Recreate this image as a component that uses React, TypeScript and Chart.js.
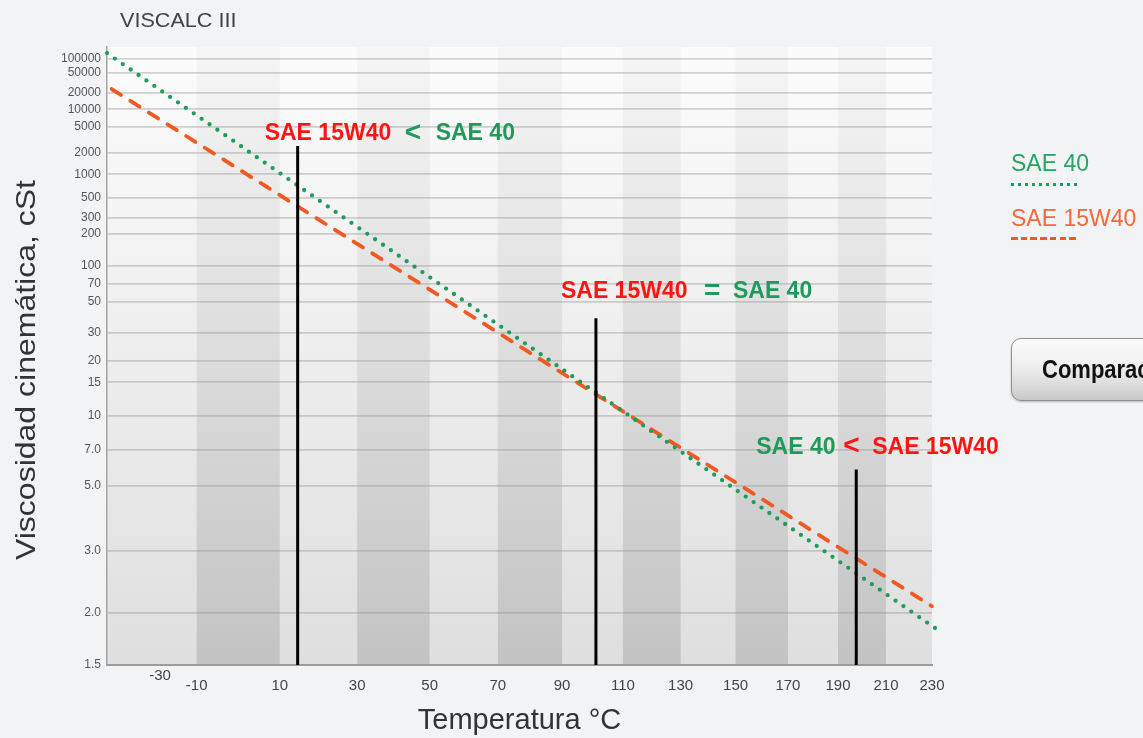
import React, { useEffect, useRef } from "react";
import { Chart, registerables } from "chart.js";

Chart.register(...registerables);

const FONT = '"Liberation Sans", Arial, Helvetica, sans-serif';

// ---- data ----
const xTickLabels = [-30, -10, 10, 30, 50, 70, 90, 110, 130, 150, 170, 190, 210, 230];
const yTickValues = [1.5, 2, 3, 5, 7, 10, 15, 20, 30, 50, 70, 100, 200, 300, 500, 1000, 2000, 5000, 10000, 20000, 50000, 100000];
const yTickLabels = ["1.5", "2.0", "3.0", "5.0", "7.0", "10", "15", "20", "30", "50", "70", "100", "200", "300", "500", "1000", "2000", "5000", "10000", "20000", "50000", "100000"];
const tempRange = [-30, 230];
const viscRange = [1.5, 185000];
const bandStarts = [-10, 30, 70, 110, 150, 190];
const bandWidth = 20;

const sae40Temps = [-30, 232];
const sae40Visc = [134000, 1.82];
const sae15w40Temps = [-29, 230];
const sae15w40Visc = [23600, 2.08];

const markerTemps = [14.5, 101, 197.5];
const markerTops = [2500, 38, 5.8];

const seriesNames = ["SAE 40", "SAE 15W40"];

const RED = "#ff1414";
const GREEN_TXT = "#1f9a5a";
const GREEN = "#1e9c5c";
const ORANGE = "#f05a22";

const annotationTexts = [
  ["SAE 15W40", "<", "SAE 40"],
  ["SAE 15W40", "=", "SAE 40"],
  ["SAE 40", "<", "SAE 15W40"],
];
const annotationColors = [
  [RED, GREEN_TXT, GREEN_TXT],
  [RED, GREEN_TXT, GREEN_TXT],
  [GREEN_TXT, RED, RED],
];
// style: placement relative to the top of each marker line
const annotationAnchor = [
  [-33, -12],
  [-35, -26],
  [-100, -22],
];
const annotationSegX = [
  [0, 140, 171],
  [0, 143, 172],
  [0, 87, 116],
];

const tx = (t: number) => Math.log10(t + 273.15);
const W = (v: number) => Math.log10(Math.log10(v + 0.7));

export default function App() {
  const ref = useRef<HTMLCanvasElement>(null);

  useEffect(() => {
    document.body.style.margin = "0";
    const canvas = ref.current!;
    const ctx = canvas.getContext("2d")!;

    const bgPlugin = {
      id: "bands",
      beforeDraw(chart: any) {
        const { ctx, chartArea: a, scales } = chart;
        const x = scales.x;
        ctx.save();
        const g = ctx.createLinearGradient(0, a.top, 0, a.bottom);
        g.addColorStop(0, "#fcfcfc");
        g.addColorStop(1, "#dfdfdf");
        ctx.fillStyle = g;
        ctx.fillRect(a.left, a.top, a.right - a.left, a.bottom - a.top);
        const g2 = ctx.createLinearGradient(0, a.top, 0, a.bottom);
        g2.addColorStop(0, "#f6f6f6");
        g2.addColorStop(1, "#c3c3c3");
        ctx.fillStyle = g2;
        bandStarts.forEach((s) => {
          const x0 = x.getPixelForValue(tx(s));
          const x1 = x.getPixelForValue(tx(s + bandWidth));
          ctx.fillRect(x0, a.top, x1 - x0, a.bottom - a.top);
        });
        ctx.restore();
      },
    };

    const textPlugin = {
      id: "texts",
      afterDatasetsDraw(chart: any) {
        const { ctx, chartArea: a, scales } = chart;
        const x = scales.x;
        const y = scales.y;
        ctx.save();
        // annotations
        annotationTexts.forEach((segs, i) => {
          const px = x.getPixelForValue(tx(markerTemps[i]));
          const py = y.getPixelForValue(W(markerTops[i]));
          const ax = px + annotationAnchor[i][0];
          const ay = py + annotationAnchor[i][1];
          segs.forEach((s, j) => {
            const sym = s === "<" || s === "=";
            ctx.font = sym ? `bold 28px ${FONT}` : `bold 23px ${FONT}`;
            ctx.fillStyle = annotationColors[i][j];
            ctx.textAlign = "left";
            ctx.textBaseline = "middle";
            ctx.fillText(s, ax + annotationSegX[i][j], ay + (sym ? -1 : 0));
          });
        });
        // x tick labels
        ctx.font = `15px ${FONT}`;
        ctx.fillStyle = "#444";
        ctx.textAlign = "center";
        ctx.textBaseline = "middle";
        xTickLabels.forEach((t, i) => {
          const px = x.getPixelForValue(tx(t));
          const dx = i === 0 ? 53 : 0;
          const dy = i === 0 ? -10 : 0;
          ctx.fillText(String(t), px + dx, a.bottom + 21 + dy);
        });
        // y title (stretched like the original)
        const yt = "Viscosidad cinemática, cSt";
        ctx.translate(27, 370);
        ctx.rotate(-Math.PI / 2);
        ctx.font = `28px ${FONT}`;
        const w = ctx.measureText(yt).width;
        ctx.scale(380 / w, 1);
        ctx.fillStyle = "#333";
        ctx.fillText(yt, 0, 0);
        ctx.restore();
      },
    };

    const markerSets = markerTemps.map((t, i) => ({
      label: "m" + i,
      data: [
        { x: tx(t), y: W(viscRange[0]) },
        { x: tx(t), y: W(markerTops[i]) },
      ],
      borderColor: "#000",
      borderWidth: 3,
      pointRadius: 0,
    }));

    const chart = new Chart(ctx, {
      type: "line",
      data: {
        datasets: [
          ...markerSets,
          {
            label: seriesNames[0],
            data: sae40Temps.map((t, i) => ({ x: tx(t), y: W(sae40Visc[i]) })),
            borderColor: GREEN,
            borderWidth: 4.3,
            borderDash: [0, 9.6],
            borderCapStyle: "round",
            pointRadius: 0,
            clip: false,
          },
          {
            label: seriesNames[1],
            data: sae15w40Temps.map((t, i) => ({ x: tx(t), y: W(sae15w40Visc[i]) })),
            borderColor: ORANGE,
            borderWidth: 3.8,
            borderDash: [11, 11],
            borderCapStyle: "round",
            pointRadius: 0,
            clip: false,
          },
        ] as any,
      },
      options: {
        animation: false,
        responsive: false,
        events: [],
        layout: { padding: { top: 47, right: 211, left: 0, bottom: 0 } },
        plugins: { legend: { display: false }, tooltip: { enabled: false } },
        scales: {
          x: {
            type: "linear",
            min: tx(tempRange[0]),
            max: tx(tempRange[1]),
            afterFit: (s: any) => {
              s.height = 73;
            },
            ticks: { display: false },
            grid: { display: false },
            border: { display: true, color: "#9c9c9c", width: 2 },
            title: {
              display: true,
              text: "Temperatura °C",
              color: "#333",
              font: { family: FONT, size: 29 },
              padding: 0,
            },
          },
          y: {
            type: "linear",
            min: W(viscRange[0]),
            max: W(viscRange[1]),
            afterFit: (s: any) => {
              s.width = 107;
            },
            afterBuildTicks: (s: any) => {
              s.ticks = yTickValues.map((v) => ({ value: W(v) }));
            },
            ticks: {
              autoSkip: false,
              padding: 6,
              color: "#555",
              font: { family: FONT, size: 12 },
              callback: (_v: any, idx: number) => yTickLabels[idx],
            },
            grid: { color: "rgba(150,150,150,0.42)", lineWidth: 1.8, drawTicks: false },
            border: { display: true, color: "#a4a4a4", width: 1.5 },
          },
        },
      } as any,
      plugins: [bgPlugin, textPlugin],
    });
    return () => chart.destroy();
  }, []);

  return (
    <div
      style={{
        position: "fixed",
        left: 0,
        top: 0,
        width: 1143,
        height: 738,
        background: "#f2f3f5",
        overflow: "hidden",
        fontFamily: FONT,
      }}
    >
      <canvas
        ref={ref}
        width={1143}
        height={738}
        style={{ position: "absolute", left: 0, top: 0, width: 1143, height: 738 }}
      />
      <div style={{ position: "absolute", left: 120, top: 10, fontSize: 20, lineHeight: "21px", color: "#444", transform: "scaleX(1.08)", transformOrigin: "left center" }}>
        VISCALC III
      </div>
      <div style={{ position: "absolute", left: 1011, top: 151, fontSize: 23, lineHeight: "24px", color: "#27a463", whiteSpace: "nowrap" }}>
        {seriesNames[0]}
      </div>
      <div
        style={{
          position: "absolute",
          left: 1011,
          top: 183,
          width: 68,
          height: 3,
          background: `repeating-linear-gradient(90deg, ${GREEN} 0 3px, transparent 3px 7px)`,
        }}
      />
      <div style={{ position: "absolute", left: 1011, top: 206, fontSize: 23, lineHeight: "24px", color: "#f2693a", whiteSpace: "nowrap" }}>
        {seriesNames[1]}
      </div>
      <div
        style={{
          position: "absolute",
          left: 1011,
          top: 237,
          width: 68,
          height: 3,
          background: `repeating-linear-gradient(90deg, ${ORANGE} 0 6.5px, transparent 6.5px 9.7px)`,
        }}
      />
      <div
        style={{
          position: "absolute",
          left: 1011,
          top: 338,
          width: 220,
          height: 63,
          boxSizing: "border-box",
          border: "1.5px solid #8e8e8e",
          borderRadius: 10,
          background: "linear-gradient(#fbfbfb 0%, #f0f0f0 40%, #dcdcdc 75%, #c8c8c8 100%)",
          boxShadow: "0 1px 2px rgba(0,0,0,0.25)",
          paddingLeft: 30,
          lineHeight: "60px",
          whiteSpace: "nowrap",
        }}
      >
        <span
          style={{
            display: "inline-block",
            fontSize: 25,
            fontWeight: "bold",
            color: "#111",
            transform: "scaleX(0.88)",
            transformOrigin: "left center",
          }}
        >
          Comparación
        </span>
      </div>
    </div>
  );
}
